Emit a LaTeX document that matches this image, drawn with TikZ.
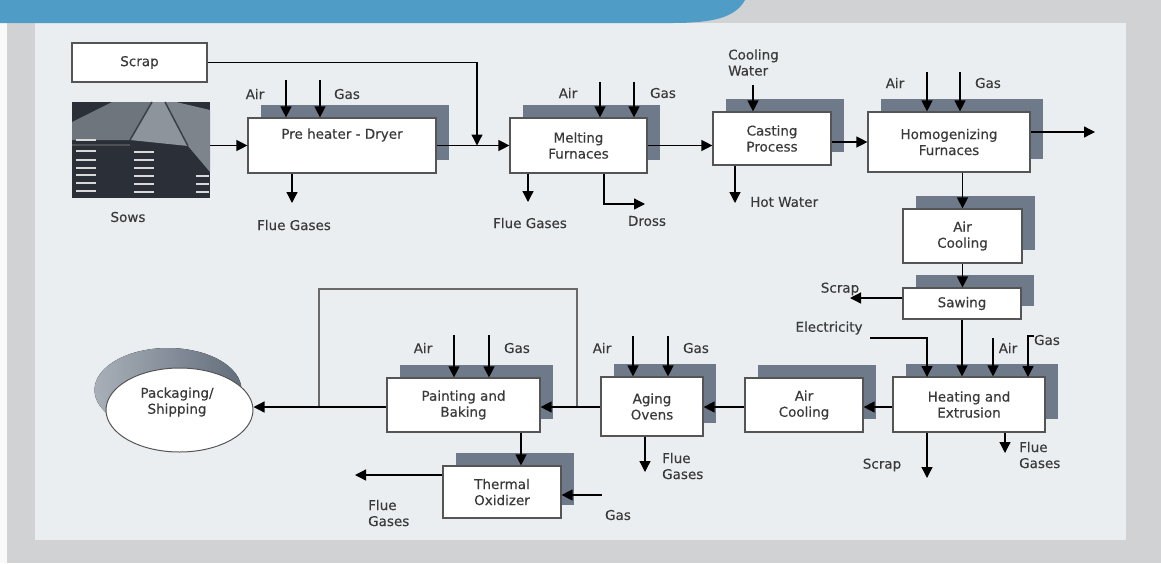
\documentclass[tikz,border=0pt]{standalone}
\usepackage{fontspec}
\setmainfont{DejaVu Sans}[FakeBold=0.35]
\usetikzlibrary{arrows.meta,shadows,shapes.geometric}
\definecolor{bannerblue}{HTML}{4F9DC6}
\definecolor{framegray}{HTML}{D1D2D4}
\definecolor{panelbg}{HTML}{EBEEF1}
\definecolor{shadowc}{HTML}{6E7A89}
\definecolor{boxline}{HTML}{555555}
\definecolor{txt}{HTML}{3A3A3A}
\definecolor{loopc}{HTML}{6A6A6A}
\definecolor{sowdark}{HTML}{2B3038}
\definecolor{sowtopA}{HTML}{6F757D}
\definecolor{sowtopB}{HTML}{8E949B}
\definecolor{sowtopC}{HTML}{7E848B}
\begin{document}
\begin{tikzpicture}[x=1pt,y=-1pt,
  font=\fontsize{13.5}{16}\selectfont,
  every node/.style={text=txt},
  proc/.style={draw=boxline,line width=1.2pt,fill=white,inner sep=0pt,align=center,
     drop shadow={shadow xshift=13pt,shadow yshift=13pt,fill=shadowc,opacity=1,draw=none}},
  plainbox/.style={draw=boxline,line width=1.2pt,fill=white,inner sep=0pt,align=center},
  lbl/.style={inner sep=0pt,align=center},
  lbll/.style={inner sep=0pt,align=left,anchor=west},
  flow/.style={line width=1.3pt,draw=black,-{Triangle[length=11pt,width=11pt]}},
  loopline/.style={line width=2pt,draw=loopc},
]
\useasboundingbox (0,0) rectangle (1161,563);
% background
\fill[framegray] (0,0) rectangle (1161,563);
\fill[white!95!gray] (0,23) rectangle (7,563);
\fill[panelbg] (35,23) rectangle (1126,540);
\fill[bannerblue] (0,0) -- (745,0) .. controls (735,18) and (712,23) .. (672,23) -- (0,23) -- cycle;

% sows picture
\node[inner sep=0pt,minimum width=138pt,minimum height=96pt,fill=sowdark] (sows) at (141,150) {};
\fill[sowtopA] (72,122) -- (72,140) -- (130,140) -- (152,102) -- (112,102) -- cycle;
\fill[sowtopB] (130,140) -- (188,146) -- (165,102) -- (152,102) -- cycle;
\fill[sowtopC] (188,146) -- (210,172) -- (210,110) -- (176,102) -- (165,102) -- cycle;
\draw[sowdark!80!gray,line width=1.5pt] (130,140) -- (152,102) (188,146) -- (165,102);
\draw[sowdark!60!gray,line width=2pt] (72,145) -- (130,145);
\foreach \yy in {140,151,160,168,175,183,191}{
  \draw[white!70!gray,line width=1.6pt] (76,\yy) -- (96,\yy);
}
\foreach \yy in {152,160,168,176,184,192}{
  \draw[white!70!gray,line width=1.6pt] (134,\yy) -- (154,\yy);
}
\foreach \yy in {176,184,192}{\draw[white!70!gray,line width=1.6pt] (196,\yy) -- (209,\yy);}
\node[lbl] (sowslbl) at (128,217) {Sows};

% process boxes
\node[plainbox,minimum width=135pt,minimum height=39pt] (scrap) at (139.5,62.5) {Scrap};
\node[proc,minimum width=188pt,minimum height=55pt] (pre) at (342,145.5) {};
\node[lbl] (pretxt) at (342,135) {Pre heater - Dryer};
\node[proc,minimum width=137pt,minimum height=55pt] (melt) at (578.5,145.5) {Melting\\Furnaces};
\node[proc,minimum width=118pt,minimum height=53pt] (cast) at (772,138.5) {Casting\\Process};
\node[proc,minimum width=162pt,minimum height=60pt] (homog) at (949,142) {Homogenizing\\Furnaces};
\node[proc,minimum width=119pt,minimum height=54pt] (ac1) at (962.5,236) {Air\\Cooling};
\node[proc,minimum width=118pt,minimum height=31pt] (saw) at (962,303.5) {Sawing};
\node[proc,minimum width=152pt,minimum height=55pt] (heat) at (969,404.5) {Heating and\\Extrusion};
\node[proc,minimum width=118pt,minimum height=54pt] (ac2) at (804,405) {Air\\Cooling};
\node[proc,minimum width=102pt,minimum height=59pt] (aging) at (652,406.5) {Aging\\Ovens};
\node[proc,minimum width=153pt,minimum height=54pt] (paint) at (463.5,405) {Painting and\\Baking};
\node[proc,minimum width=118pt,minimum height=52pt] (therm) at (502,492) {Thermal\\Oxidizer};

% packaging ellipse with shaded shadow
\fill[left color=shadowc!60!white,right color=shadowc!90!black] (168,390) ellipse [x radius=73.5pt,y radius=42pt];
\node[ellipse,draw=boxline,line width=1pt,fill=white,minimum width=147pt,minimum height=84pt,inner sep=0pt] (pack) at (179.5,410) {};
\node[lbl] (packtxt) at (177,402) {Packaging/\\Shipping};

% coordinates for free ends
\coordinate (rowY) at (0,407);
\coordinate (scrapjoin) at (477,145.5);
\coordinate (preAir) at (286,80);
\coordinate (preGas) at (320,80);
\coordinate (preFlue) at (292,203);
\coordinate (meltAir) at (600,82);
\coordinate (meltGas) at (634,82);
\coordinate (meltFlue) at (528,202);
\coordinate (drossX) at (604,0);
\coordinate (dross) at (645,204);
\coordinate (castCool) at (753,85);
\coordinate (castHot) at (735,203);
\coordinate (homogAir) at (927,72);
\coordinate (homogGas) at (960,72);
\coordinate (homogOut) at (1095,132);
\coordinate (sawScrap) at (850,298);
\coordinate (elecStart) at (870,338);
\coordinate (elecIn) at (927,377);
\coordinate (heatAir) at (993,338);
\coordinate (heatGasS) at (1034,336);
\coordinate (heatGas) at (1028,377);
\coordinate (heatScrap) at (927,478);
\coordinate (heatFlue) at (1005,453);
\coordinate (agingAir) at (633,336);
\coordinate (agingGas) at (668,336);
\coordinate (agingFlue) at (645,472);
\coordinate (paintAir) at (454,335);
\coordinate (paintGas) at (489,335);
\coordinate (p2t) at (521,0);
\coordinate (thGas) at (602,495);
\coordinate (thFlue) at (355,475);
\coordinate (loopR) at (577,407);
\coordinate (loopTop) at (448,289);
\coordinate (loopL) at (319,407);

% feedback loop
\draw[loopline] (loopR) |- (loopTop) -| (loopL);

% connectors
\draw[flow] (sows.east |- pre.west) -- (pre.west);
\draw[flow] (scrap.east) -| (scrapjoin);
\draw[flow] (preAir) -- (preAir |- pre.north);
\draw[flow] (preGas) -- (preGas |- pre.north);
\draw[flow] (preFlue |- pre.south) -- (preFlue);
\draw[flow] (pre.east) -- (melt.west);
\draw[flow] (meltAir) -- (meltAir |- melt.north);
\draw[flow] (meltGas) -- (meltGas |- melt.north);
\draw[flow] (meltFlue |- melt.south) -- (meltFlue);
\draw[flow] (drossX |- melt.south) |- (dross);
\draw[flow] (melt.east) -- (melt.east -| cast.west);
\draw[flow] (castCool) -- (castCool |- cast.north);
\draw[flow] (castHot |- cast.south) -- (castHot);
\draw[flow] (cast.east |- homog.west) -- (homog.west);
\draw[flow] (homogAir) -- (homogAir |- homog.north);
\draw[flow] (homogGas) -- (homogGas |- homog.north);
\draw[flow] (homogOut -| homog.east) -- (homogOut);
\draw[flow] (ac1.north |- homog.south) -- (ac1.north);
\draw[flow] (ac1.south) -- (ac1.south |- saw.north);
\draw[flow] (saw.west |- sawScrap) -- (sawScrap);
\draw[flow] (elecStart) -| (elecIn);
\draw[flow] (saw.south) -- (saw.south |- heat.north);
\draw[flow] (heatAir) -- (heatAir |- heat.north);
\draw[flow] (heatGasS) -| (heatGas);
\draw[flow] (heatScrap |- heat.south) -- (heatScrap);
\draw[flow] (heatFlue |- heat.south) -- (heatFlue);
\draw[flow] (heat.west |- rowY) -- (ac2.east |- rowY);
\draw[flow] (ac2.west |- rowY) -- (aging.east |- rowY);
\draw[flow] (agingAir) -- (agingAir |- aging.north);
\draw[flow] (agingGas) -- (agingGas |- aging.north);
\draw[flow] (agingFlue |- aging.south) -- (agingFlue);
\draw[flow] (aging.west |- rowY) -- (paint.east |- rowY);
\draw[flow] (paintAir) -- (paintAir |- paint.north);
\draw[flow] (paintGas) -- (paintGas |- paint.north);
\draw[flow] (paint.west |- rowY) -- (pack.east |- rowY);
\draw[flow] (p2t |- paint.south) -- (p2t |- therm.north);
\draw[flow] (thGas) -- (thGas -| therm.east);
\draw[flow] (therm.west |- thFlue) -- (thFlue);

% labels
\node[lbl] (l1) at (255,94) {Air};
\node[lbl] (l2) at (347,94) {Gas};
\node[lbl] (l3) at (294,225) {Flue Gases};
\node[lbl] (l4) at (568,93) {Air};
\node[lbl] (l5) at (663,93) {Gas};
\node[lbl] (l6) at (530,223) {Flue Gases};
\node[lbl] (l7) at (647,221) {Dross};
\node[lbll] (l8) at (728,62.5) {Cooling\\Water};
\node[lbll] (l9) at (750,202) {Hot Water};
\node[lbl] (l10) at (895,83) {Air};
\node[lbl] (l11) at (988,83) {Gas};
\node[lbl] (l12) at (840,289) {Scrap};
\node[lbl] (l13) at (829,328) {Electricity};
\node[lbl] (l14) at (1008,348) {Air};
\node[lbl] (l15) at (1047,340) {Gas};
\node[lbl] (l16) at (882,465) {Scrap};
\node[lbll] (l17) at (1019,455) {Flue\\Gases};
\node[lbl] (l18) at (602,348) {Air};
\node[lbl] (l19) at (696,348) {Gas};
\node[lbll] (l20) at (662,466) {Flue\\Gases};
\node[lbl] (l21) at (423,348) {Air};
\node[lbl] (l22) at (517,348) {Gas};
\node[lbl] (l23) at (618,515) {Gas};
\node[lbll] (l24) at (368,513) {Flue\\Gases};
\end{tikzpicture}
\end{document}
